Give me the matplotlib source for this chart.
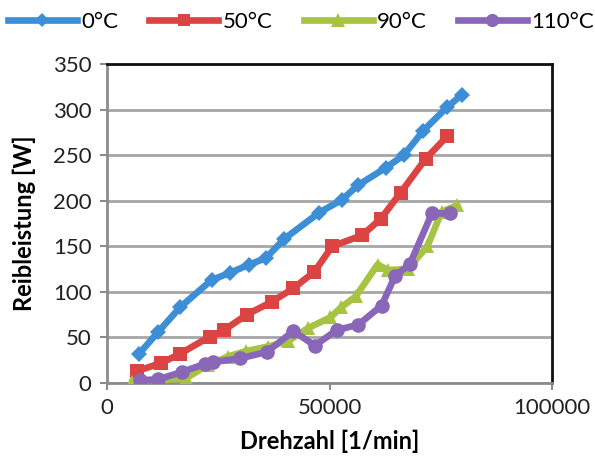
import matplotlib
matplotlib.use("Agg")
import matplotlib.pyplot as plt
from matplotlib.lines import Line2D

plt.rcParams['font.family'] = ['Lato', 'DejaVu Sans']

# Reibleistung über Drehzahl bei verschiedenen Temperaturen
x_0 = [7200, 11500, 16400, 23500, 27700, 32000, 35700, 39800, 47700, 52800, 56400, 62600, 66700, 71100, 76500, 79700]
y_0 = [32, 56, 83, 113, 121, 130, 137, 158, 187, 201, 217, 236, 250, 277, 303, 316]

x_50 = [6700, 12200, 16400, 23100, 26300, 31400, 37000, 41900, 46600, 50600, 57300, 61500, 66000, 71600, 76500]
y_50 = [13, 22, 32, 51, 58, 75, 89, 104, 122, 150, 162, 180, 209, 246, 271]

x_90 = [5700, 17700, 22700, 27200, 31200, 36200, 40700, 45100, 50200, 52600, 55900, 60800, 63200, 67600, 72000, 75200, 78700]
y_90 = [1, 5, 20, 29, 35, 40, 46, 60, 72, 83, 95, 130, 124, 125, 150, 188, 195]

x_110 = [7400, 11500, 16800, 22000, 23900, 29900, 35900, 41900, 46700, 51600, 56500, 61700, 64700, 68100, 73000, 77100]
y_110 = [3, 4, 12, 21, 23, 27, 34, 57, 41, 58, 64, 85, 117, 131, 186, 186]

labels = ["0°C", "50°C", "90°C", "110°C"]
colors = ["#3C8ED6", "#DC4343", "#A6C342", "#8A66B8"]
markers = ["D", "s", "^", "o"]
msizes = [8.5, 9.5, 10.5, 10.5]
series = [(x_0, y_0), (x_50, y_50), (x_90, y_90), (x_110, y_110)]

fig = plt.figure(figsize=(5.95, 4.66), dpi=100)
W, H = 595, 466
ax = fig.add_axes([107 / W, 1 - 383 / H, (552 - 107) / W, (383 - 64) / H])

for (xs, ys), lab, c, m, ms in zip(series, labels, colors, markers, msizes):
    ax.plot(xs, ys, color=c, lw=4.8, marker=m, markersize=ms,
            markeredgewidth=0, label=lab, zorder=3, solid_joinstyle='round')

ax.set_xlim(0, 100000)
ax.set_ylim(0, 350)
ax.set_xticks([0, 50000, 100000])
ax.set_yticks(range(0, 351, 50))
ax.grid(axis='y', color='#A6A6A6', lw=2, zorder=0)
ax.set_axisbelow(True)

for side in ['left', 'bottom']:
    ax.spines[side].set_color('#8C8C8C')
    ax.spines[side].set_linewidth(2)
for side in ['top', 'right']:
    ax.spines[side].set_color('#111111')
    ax.spines[side].set_linewidth(2)

ax.tick_params(axis='both', direction='out', length=5, width=1.5,
               color='#8C8C8C', labelsize=16, labelcolor='#222222', pad=6)
ax.set_xlabel("Drehzahl [1/min]", fontsize=17, fontweight='bold', labelpad=8)
ax.set_ylabel("Reibleistung [W]", fontsize=17, fontweight='bold', labelpad=12)

handles = [Line2D([0], [0], color=c, lw=4.8, marker=m, markersize=ms - 1,
                  markeredgewidth=0) for c, m, ms in zip(colors, markers, msizes)]
fig.legend(handles, labels, loc='lower left',
           bbox_to_anchor=(8 / W, 1 - 32 / H, 586 / W, 28 / H), mode='expand',
           ncol=4, frameon=False, fontsize=16, handlelength=3.1,
           handletextpad=0.2, borderaxespad=0, borderpad=0)

fig.savefig("out.png", dpi=100)
